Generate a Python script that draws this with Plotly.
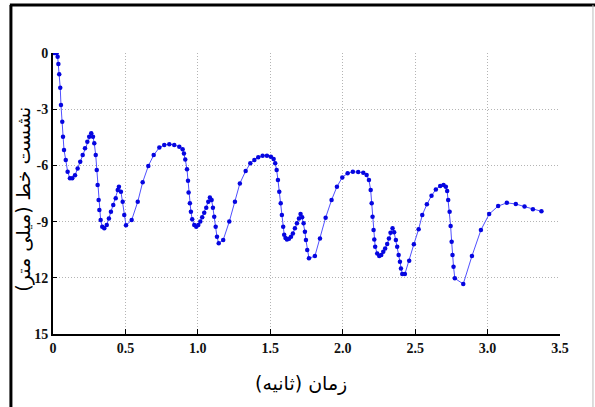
import plotly.graph_objects as go

# time (s)
time_s = [0.0, 0.013, 0.026, 0.032, 0.037, 0.043, 0.05, 0.055, 0.064, 0.069, 0.076,
          0.088, 0.101, 0.117, 0.133, 0.152, 0.17, 0.188, 0.205, 0.221, 0.237,
          0.25, 0.264, 0.276, 0.285, 0.295, 0.302, 0.308, 0.315, 0.32, 0.329,
          0.34, 0.354, 0.371, 0.386, 0.4, 0.416, 0.433, 0.447, 0.455, 0.469,
          0.481, 0.492, 0.504,
          0.543, 0.585, 0.619, 0.658, 0.695, 0.734, 0.768, 0.803, 0.837, 0.872,
          0.895, 0.904, 0.913, 0.925, 0.932, 0.936, 0.945, 0.952, 0.961, 0.975,
          0.989, 1.003, 1.017, 1.03, 1.044, 1.058, 1.072, 1.083, 1.095, 1.104,
          1.113, 1.123, 1.132, 1.144, 1.175,
          1.217, 1.256, 1.29, 1.33, 1.362, 1.39, 1.417, 1.447, 1.477, 1.504,
          1.523, 1.534, 1.544, 1.553, 1.562, 1.572, 1.58, 1.589, 1.596, 1.605,
          1.615, 1.629, 1.643, 1.656, 1.67, 1.684, 1.698, 1.709, 1.72, 1.73,
          1.739, 1.746, 1.755, 1.767, 1.808, 1.843, 1.882, 1.923, 1.96, 1.997,
          2.034, 2.07, 2.107, 2.142, 2.165, 2.181, 2.193, 2.2, 2.206, 2.213,
          2.218, 2.224, 2.238, 2.252, 2.266, 2.28, 2.293, 2.307, 2.319, 2.33,
          2.344, 2.355, 2.367, 2.376, 2.386, 2.395, 2.402, 2.411, 2.429, 2.459,
          2.491, 2.524, 2.549, 2.581, 2.613, 2.643, 2.673, 2.696, 2.712, 2.721,
          2.728, 2.738, 2.745, 2.752, 2.758, 2.765, 2.774, 2.832, 2.892, 2.954,
          3.011, 3.073, 3.133, 3.195, 3.255, 3.313, 3.372]

# settlement (mm), plotted on reversed axis
settlement_mm = [0.0, 0.0, 0.0, 0.2, 0.59, 1.14, 1.85, 2.78, 3.67, 4.47, 5.18,
                 5.71, 6.34, 6.69, 6.69, 6.52, 6.16, 5.8, 5.45, 5.09, 4.74,
                 4.47, 4.29, 4.47, 4.82, 5.45, 6.25, 7.05, 7.85, 8.38, 8.92,
                 9.27, 9.36, 9.18, 8.83, 8.47, 8.12, 7.76, 7.31, 7.14, 7.4,
                 7.94, 8.65, 9.2,
                 8.92, 7.94, 6.9, 6.03, 5.45, 5.05, 4.91, 4.87, 4.91, 5.0,
                 5.14, 5.36, 5.68, 6.21, 6.82, 7.44, 8.02, 8.47, 8.88, 9.18,
                 9.27, 9.18, 9.0, 8.77, 8.53, 8.26, 7.94, 7.72, 7.85, 8.26,
                 8.74, 9.27, 9.81, 10.16, 9.98,
                 9.0, 7.94, 6.96, 6.3, 5.89, 5.71, 5.57, 5.48, 5.48, 5.54,
                 5.66, 5.89, 6.25, 6.78, 7.41, 8.02, 8.65, 9.27, 9.7, 9.88,
                 9.95, 9.91, 9.81, 9.63, 9.36, 9.09, 8.83, 8.6, 8.77, 9.09,
                 9.54, 9.98, 10.52, 10.96, 10.84, 9.9, 8.79, 7.85, 7.14, 6.64,
                 6.42, 6.34, 6.35, 6.39, 6.51, 6.78, 7.31, 8.02, 8.74, 9.45,
                 9.95, 10.34, 10.7, 10.84, 10.78, 10.61, 10.43, 10.2, 9.9, 9.59,
                 9.36, 9.57, 9.98, 10.34, 10.78, 11.14, 11.5, 11.8, 11.8, 11.09,
                 10.21, 9.41, 8.65, 8.08, 7.62, 7.28, 7.1, 7.05, 7.14, 7.37,
                 7.85, 8.47, 9.24, 10.07, 10.78, 11.41, 12.03, 12.33, 10.84, 9.45,
                 8.6, 8.17, 8.0, 8.06, 8.2, 8.34, 8.45]

x_tickvals = [0, 0.5, 1.0, 1.5, 2.0, 2.5, 3.0, 3.5]
x_ticktext = ["0", "0.5", "1.0", "1.5", "2.0", "2.5", "3.0", "3.5"]
y_tickvals = [0, 3, 6, 9, 12, 15]
y_ticktext = ["0", "-3", "-6", "-9", "12", "15"]

x_title = "زمان (ثانیه)"
y_title = "نشست خط (میلی متر)"

fig = go.Figure()
fig.add_trace(go.Scatter(
    x=time_s, y=settlement_mm, mode="lines+markers",
    line=dict(color="#5050ff", width=1),
    marker=dict(color="#0505e0", size=4.5),
    showlegend=False,
))

tickfont = dict(family="Liberation Serif, serif", size=14, color="#111", weight="bold")
grid = dict(showgrid=True, gridcolor="#b4b4b4", griddash="1px,2px", gridwidth=1)
fig.update_layout(
    width=595, height=407,
    margin=dict(l=53, r=35, t=53, b=73),
    paper_bgcolor="white", plot_bgcolor="white",
    xaxis=dict(range=[0, 3.5], tickvals=x_tickvals, ticktext=x_ticktext, **grid,
               zeroline=False, showline=True, linecolor="black", linewidth=2,
               ticks="inside", ticklen=5, tickcolor="black", tickfont=tickfont),
    yaxis=dict(range=[15, 0], tickvals=y_tickvals, ticktext=y_ticktext, **grid,
               zeroline=False, showline=True, linecolor="black", linewidth=2,
               ticks="inside", ticklen=4, tickcolor="black", tickfont=tickfont),
    annotations=[
        dict(text=x_title, xref="paper", yref="paper", x=0.49, y=-0.175,
             showarrow=False, font=dict(family="DejaVu Sans", size=19, color="black"),
             xanchor="center", yanchor="middle"),
        dict(text=y_title, xref="paper", yref="paper", x=-0.058, y=0.48,
             showarrow=False, textangle=-90,
             font=dict(family="DejaVu Sans", size=19, color="black"),
             xanchor="center", yanchor="middle"),
    ],
    shapes=[
        dict(type="line", xref="paper", yref="paper", x0=-0.085, x1=1.07, y0=1.171, y1=1.171,
             line=dict(color="black", width=3)),
        dict(type="line", xref="paper", yref="paper", x0=-0.083, x1=-0.083, y0=1.171, y1=-0.5,
             line=dict(color="black", width=3)),
        dict(type="line", xref="paper", yref="paper", x0=1.065, x1=1.065, y0=1.171, y1=-0.5,
             line=dict(color="#bbbbbb", width=1)),
    ],
)

fig.write_html("out.html")
